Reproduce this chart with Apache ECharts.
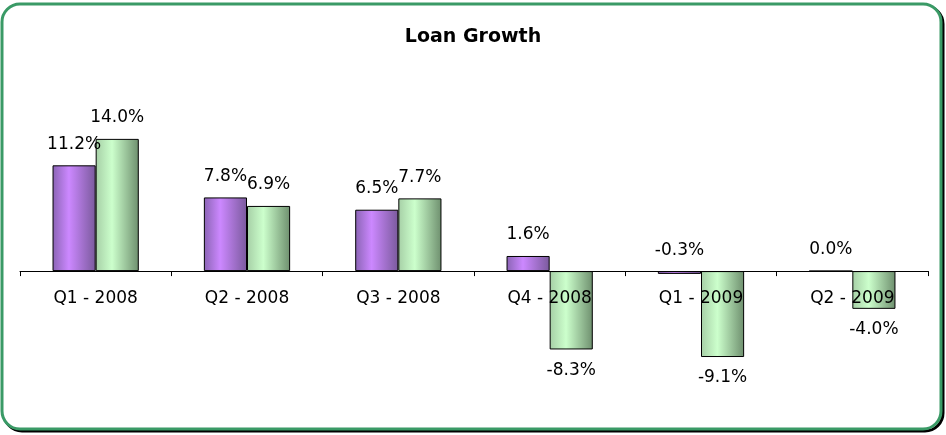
<!DOCTYPE html>
<html>
<head>
<meta charset="utf-8">
<script src="https://cdn.jsdelivr.net/npm/echarts@6/dist/echarts.min.js"></script>
<style>
  html, body { margin: 0; padding: 0; background: #ffffff; }
  #chart { width: 946px; height: 435px; }
</style>
</head>
<body>
<div id="chart"></div>
<script>
// Quarterly loan growth, two series per quarter (values in percent)
const quarters = ['Q1 - 2008', 'Q2 - 2008', 'Q3 - 2008', 'Q4 - 2008', 'Q1 - 2009', 'Q2 - 2009'];
const seriesA = [11.2, 7.8, 6.5, 1.6, -0.3, 0.0];
const seriesB = [14.0, 6.9, 7.7, -8.3, -9.1, -4.0];

const Y_MIN = -12;
const Y_MAX = 16;
const GRID_TOP = 120;
const GRID_BOTTOM = 50.6;
const H = 435;

const chart = echarts.init(document.getElementById('chart'));

function barGradient(edge, bright, dark) {
  return new echarts.graphic.LinearGradient(0, 0, 1, 0, [
    { offset: 0, color: edge },
    { offset: 0.38, color: bright },
    { offset: 1, color: dark }
  ]);
}

const purple = barGradient('#8a64b4', '#cc88ff', '#7a5a9c');
const green = barGradient('#a6cfa6', '#ccffcc', '#6e8f6e');

const labelFont = { fontFamily: 'DejaVu Sans, Liberation Sans, sans-serif', fontSize: 17, color: '#000' };

function fmt(p) { return p.value.toFixed(1) + '%'; }

// distance of the category axis above the grid bottom, so it sits on the zero line
const gridHeight = H - GRID_TOP - GRID_BOTTOM;
const zeroFromBottom = gridHeight * (0 - Y_MIN) / (Y_MAX - Y_MIN);

// value labels: centred a fixed gap beyond the end of each bar
const GAP = 21;
function outsideEnd(values, alwaysAbove) {
  return function (params) {
    const r = params.rect;
    const top = Math.min(r.y, r.y + r.height);
    const bottom = Math.max(r.y, r.y + r.height);
    const cx = r.x + r.width / 2;
    const v = values[params.dataIndex];
    const y = (alwaysAbove || v >= 0) ? top - GAP : bottom + GAP;
    return { x: cx, y: y, align: 'center', verticalAlign: 'middle' };
  };
}

chart.setOption({
  animation: false,
  title: {
    text: 'Loan Growth',
    left: 'center',
    top: 23,
    textStyle: { fontFamily: 'DejaVu Sans, Liberation Sans, sans-serif', fontSize: 19, fontWeight: 'bold', color: '#000' }
  },
  graphic: [
    {
      // dark drop edge to the lower right of the frame
      type: 'rect',
      shape: { x: 4, y: 6, width: 939, height: 425, r: 18 },
      style: { fill: 'none', stroke: '#000', lineWidth: 3 },
      z: -11,
      silent: true
    },
    {
      type: 'rect',
      shape: { x: 2, y: 4, width: 939, height: 425, r: 18 },
      style: { fill: '#ffffff', stroke: '#3a9a66', lineWidth: 3 },
      z: -10,
      silent: true
    }
  ],
  grid: { left: 20, right: 18, top: GRID_TOP, bottom: GRID_BOTTOM },
  xAxis: {
    type: 'category',
    data: quarters,
    z: 10,
    offset: -zeroFromBottom,
    axisLine: { onZero: false, lineStyle: { color: '#000', width: 1 } },
    axisTick: { show: true, length: 5, lineStyle: { color: '#000' } },
    axisLabel: { ...labelFont, margin: 19 },
    splitLine: { show: false }
  },
  yAxis: {
    type: 'value',
    min: Y_MIN,
    max: Y_MAX,
    show: false,
    splitLine: { show: false }
  },
  series: [
    {
      type: 'bar',
      data: seriesA,
      barGap: '0%',
      barCategoryGap: '43%',
      itemStyle: { color: purple, borderColor: '#000', borderWidth: 1 },
      label: { show: true, ...labelFont, formatter: fmt, position: 'top' },
      labelLayout: outsideEnd(seriesA, true)
    },
    {
      type: 'bar',
      data: seriesB,
      itemStyle: { color: green, borderColor: '#000', borderWidth: 1 },
      label: { show: true, ...labelFont, formatter: fmt, position: 'top' },
      labelLayout: outsideEnd(seriesB, false)
    }
  ]
});
</script>
</body>
</html>
